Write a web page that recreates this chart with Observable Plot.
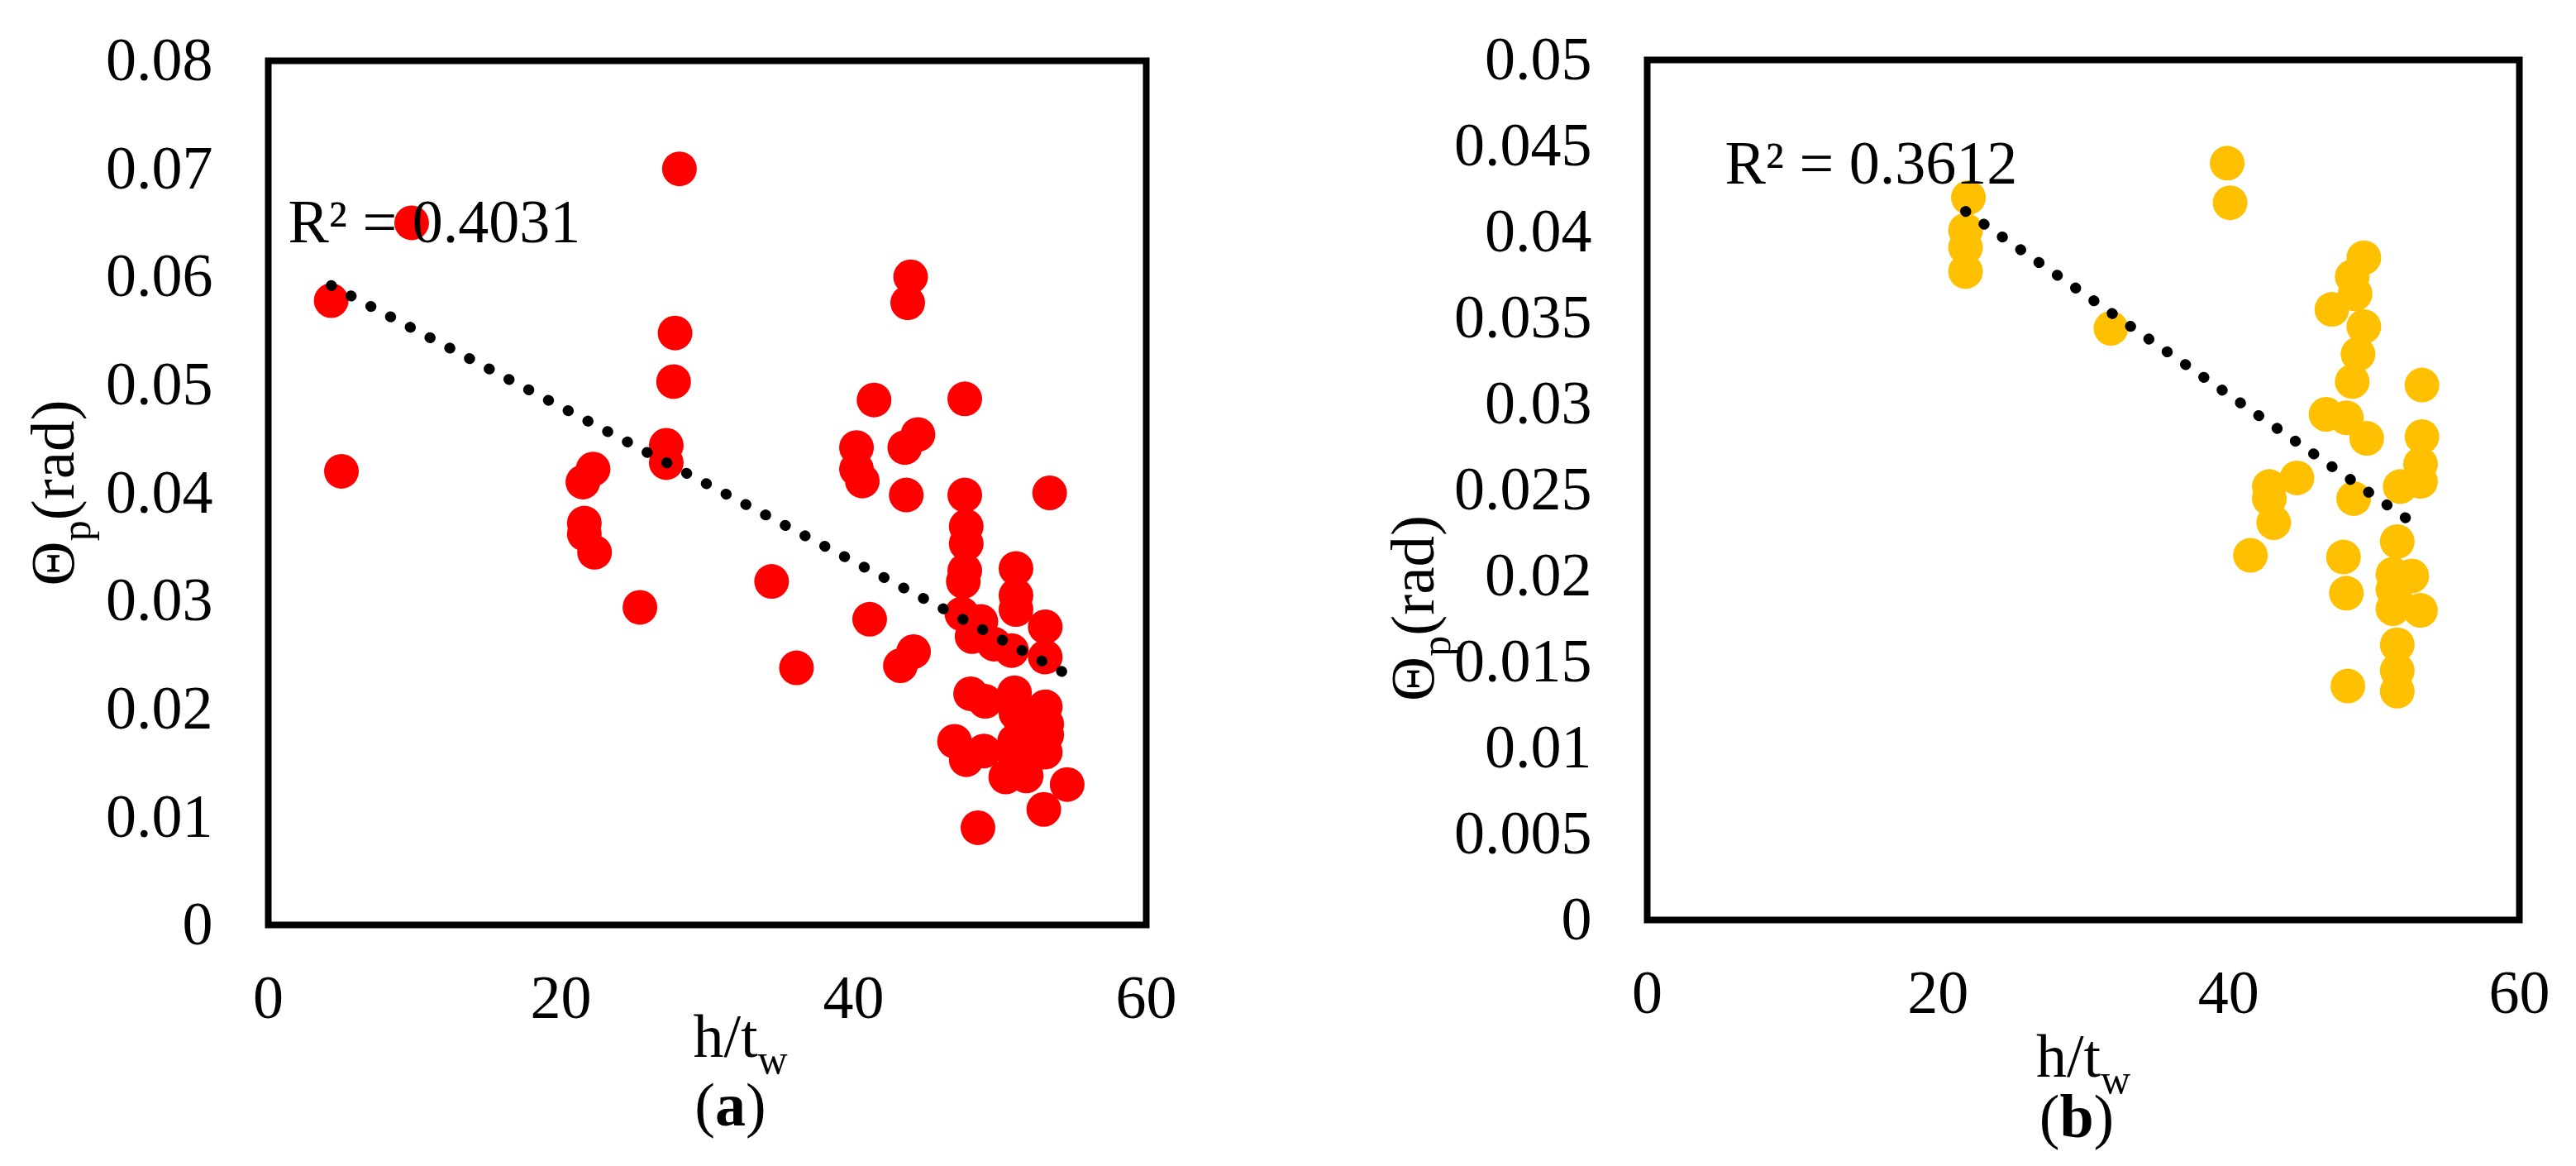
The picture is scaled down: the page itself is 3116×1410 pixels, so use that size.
<!DOCTYPE html>
<html>
<head>
<meta charset="utf-8">
<script src="https://cdn.jsdelivr.net/npm/d3@7"></script>
<script src="https://cdn.jsdelivr.net/npm/@observablehq/plot@0.6"></script>
<style>
html, body { margin: 0; padding: 0; background: #fff; }
#wrap { position: relative; width: 3116px; height: 1410px; background: #fff; overflow: hidden; }
#wrap svg { position: absolute; top: 0; }
</style>
</head>
<body>
<div id="wrap"></div>
<script>
// ---- Panel (a): h/tw vs theta_p ----
const hA = [4.3, 5.0, 9.8, 28.1, 27.8, 27.7, 27.2, 27.2, 21.5, 22.2, 21.6, 21.6, 22.3, 25.4,
  34.4, 36.1, 41.4, 40.2, 40.2, 40.6, 41.1, 43.9, 43.7, 43.5, 44.4, 43.6, 43.2, 44.1,
  47.6, 47.6, 47.7, 47.7, 47.6, 47.5, 47.4, 48.7, 48.1, 49.6, 50.8, 53.4, 51.1, 51.1,
  51.1, 53.1, 53.1, 48.0, 49.0, 51.0, 51.1, 53.1, 53.2, 53.2, 46.9, 47.7, 48.9, 51.0,
  51.9, 50.4, 51.8, 53.1, 54.6, 53.0, 48.5, 51.5, 52.3, 50.9];
const thetaA = [0.0578, 0.0420, 0.0650, 0.0700, 0.0548, 0.0503, 0.0444, 0.0428, 0.0410, 0.0422, 0.0372, 0.0362, 0.0345, 0.0294,
  0.0318, 0.0238, 0.0486, 0.0442, 0.0422, 0.0411, 0.0283, 0.0600, 0.0576, 0.0442, 0.0454, 0.0398, 0.0240, 0.0253,
  0.0487, 0.0398, 0.0369, 0.0353, 0.0328, 0.0318, 0.0288, 0.0281, 0.0267, 0.0260, 0.0254, 0.0400, 0.0330, 0.0305,
  0.0292, 0.0276, 0.0248, 0.0214, 0.0207, 0.0215, 0.0196, 0.0202, 0.0186, 0.0176, 0.0170, 0.0153, 0.0161, 0.0170,
  0.0155, 0.0137, 0.0138, 0.0160, 0.0130, 0.0107, 0.0090, 0.0185, 0.0178, 0.0160];
const trendAx = [4.3, 54.6];
const trendAy = [0.0592, 0.0232];
const r2A = "R² = 0.4031";

// ---- Panel (b) ----
const hB = [22.1, 21.9, 21.9, 21.9, 31.9, 39.9, 40.1, 41.5, 42.8, 42.8, 43.1, 44.7, 47.1, 46.7,
  48.1, 47.9, 48.1, 48.2, 48.5, 48.6, 48.5, 48.7, 49.3, 49.3, 48.9, 49.5, 51.8, 51.6,
  51.3, 51.3, 51.3, 52.6, 51.6, 51.6, 51.6, 53.3, 53.3, 53.2, 53.2, 53.2, 51.5];
const thetaB = [0.0420, 0.0401, 0.0391, 0.0377, 0.0344, 0.0440, 0.0417, 0.0212, 0.0252, 0.0245, 0.0231, 0.0257, 0.0355, 0.0294,
  0.0292, 0.0211, 0.0190, 0.0136, 0.0313, 0.0245, 0.0374, 0.0364, 0.0385, 0.0345, 0.0329, 0.0280, 0.0252, 0.0220,
  0.0201, 0.0192, 0.0181, 0.0200, 0.0160, 0.0145, 0.0133, 0.0311, 0.0281, 0.0265, 0.0255, 0.0180, 0.0186];
const trendBx = [21.9, 52.3];
const trendBy = [0.0412, 0.0233];
const r2B = "R² = 0.3612";

// ---- Axes ----
const xTicks = [0, 20, 40, 60];
const yTicksA = [0, 0.01, 0.02, 0.03, 0.04, 0.05, 0.06, 0.07, 0.08];
const yTicksB = [0, 0.005, 0.01, 0.015, 0.02, 0.025, 0.03, 0.035, 0.04, 0.045, 0.05];
const xTitle = "h/tw";
const yTitle = "Θp(rad)";
const panelLetters = ["a", "b"];

const FONT = '"Liberation Serif", "Times New Roman", serif';
const fmt = d3.format("~g");

function panel(o) {
  const pts = o.h.map((v, i) => ({h: v, t: o.t[i]}));
  const trend = o.tx.map((v, i) => ({h: v, t: o.ty[i]}));
  const svg = Plot.plot({
    width: o.width, height: 1410,
    marginLeft: o.mL, marginRight: o.mR, marginTop: o.mT, marginBottom: o.mB,
    style: {fontFamily: FONT, fontSize: "74px", background: "transparent", overflow: "visible", color: "black"},
    x: {domain: [0, 60]},
    y: {domain: [0, o.yMax]},
    marks: [
      Plot.axisX({ticks: xTicks, tickSize: 0, tickPadding: 59.5, tickFormat: fmt, label: null, fontSize: 74, fill: "black"}),
      Plot.axisY({ticks: o.yTicks, tickSize: 0, tickPadding: 67, tickFormat: fmt, label: null, fontSize: 74, fill: "black"}),
      Plot.dot(pts, {x: "h", y: "t", r: 21, fill: o.color, stroke: "none"}),
      Plot.line(trend, {x: "h", y: "t", stroke: "black", strokeWidth: 13, strokeDasharray: "0.5 26.5", strokeLinecap: "round"}),
      Plot.frame({stroke: "black", strokeWidth: 8}),
      Plot.text([o.r2], {text: d => d, frameAnchor: "top-left", textAnchor: "start", lineAnchor: "bottom", dx: o.r2dx, dy: o.r2dy, fontSize: 74, fill: "black"}),
      Plot.text([xTitle], {text: d => d, frameAnchor: "bottom", textAnchor: "middle", lineAnchor: "bottom", dx: o.xlDx, dy: o.xlDy, fontSize: 74, fill: "black"}),
      Plot.text([o.letter], {text: d => "(" + d + ")", frameAnchor: "bottom", textAnchor: "middle", lineAnchor: "bottom", dx: o.capDx, dy: o.capDy, fontSize: 74, fill: "black"}),
      Plot.text([yTitle], {text: d => d, frameAnchor: "left", textAnchor: "middle", lineAnchor: "bottom", rotate: -90, dx: o.ylDx, dy: o.ylDy, fontSize: 75, fill: "black"})
    ]
  });
  // subscripts / bold letter as tspans
  d3.select(svg).selectAll("text").each(function () {
    const t = this.textContent;
    const s = d3.select(this);
    if (t === yTitle) {
      this.textContent = "";
      s.append("tspan").text("Θ");
      s.append("tspan").attr("font-size", 50).attr("dy", 20).text("p");
      s.append("tspan").attr("dy", -20).text("(rad)");
    } else if (t === xTitle) {
      this.textContent = "";
      s.append("tspan").text("h/t");
      s.append("tspan").attr("font-size", 50).attr("dy", 20).text("w");
    } else if (t === "(" + o.letter + ")") {
      this.textContent = "";
      s.append("tspan").text("(");
      s.append("tspan").attr("font-weight", "bold").text(o.letter);
      s.append("tspan").text(")");
    }
  });
  svg.style.left = o.left + "px";
  return svg;
}

const wrap = document.getElementById("wrap");
wrap.appendChild(panel({
  h: hA, t: thetaA, tx: trendAx, ty: trendAy, color: "#FF0000", yTicks: yTicksA, yMax: 0.08,
  r2: r2A, r2dx: 24, r2dy: 219, left: 0, width: 1558, mL: 324, mR: 172, mT: 73, mB: 292,
  xlDx: 40, xlDy: 159, capDx: 28, capDy: 242, ylDx: -236, ylDy: 0, letter: panelLetters[0]
}));
wrap.appendChild(panel({
  h: hB, t: thetaB, tx: trendBx, ty: trendBy, color: "#FFC000", yTicks: yTicksB, yMax: 0.05,
  r2: r2B, r2dx: 94, r2dy: 149, left: 1558, width: 1558, mL: 434, mR: 69, mT: 72, mB: 298,
  xlDx: 0, xlDy: 189, capDx: -8, capDy: 262, ylDx: -259, ylDy: 143, letter: panelLetters[1]
}));
</script>
</body>
</html>
